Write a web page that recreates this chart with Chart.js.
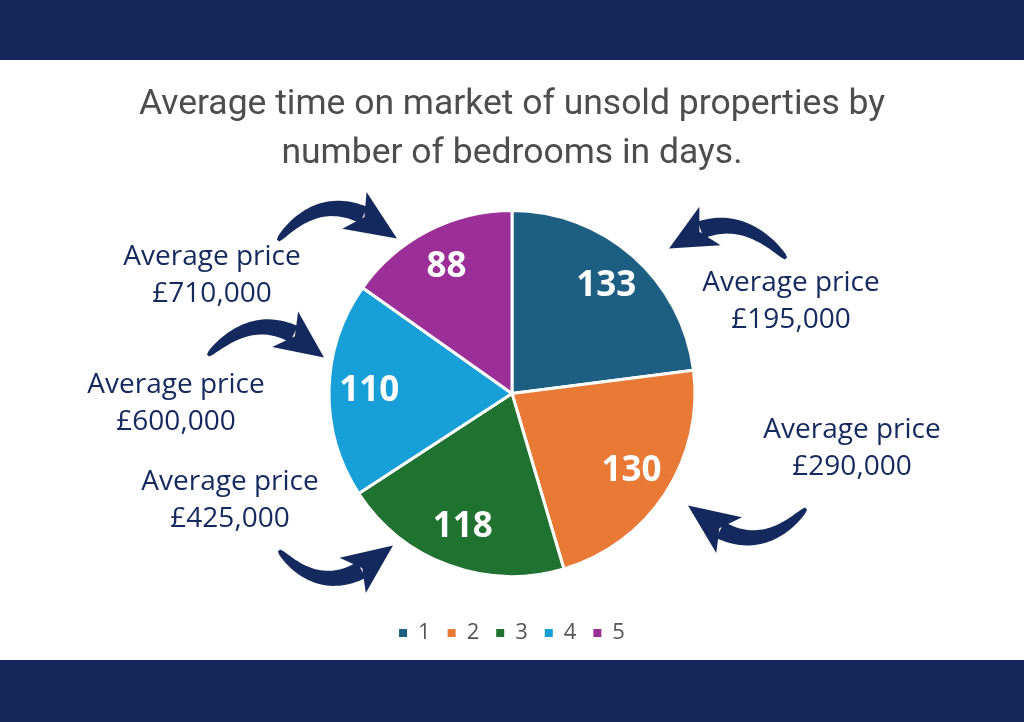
<!DOCTYPE html>
<html>
<head>
<meta charset="utf-8">
<script src="https://cdn.jsdelivr.net/npm/chart.js@4/dist/chart.umd.min.js"></script>
<style>
  html, body { margin: 0; padding: 0; background: #fff; }
  .band { background: #14265a; width: 1024px; }
  #top { height: 60px; }
  #bottom { height: 62px; }
  #wrap { width: 1024px; height: 600px; position: relative; background: #fff; }
</style>
</head>
<body>
<div class="band" id="top"></div>
<div id="wrap"><canvas id="pieChart"></canvas></div>
<div class="band" id="bottom"></div>
<script>
const bedrooms = ['1', '2', '3', '4', '5'];
const daysOnMarket = [133, 130, 118, 110, 88];
const avgPrices = ['£195,000', '£290,000', '£425,000', '£600,000', '£710,000'];
const titleLines = ['Average time on market of unsold properties by', 'number of bedrooms in days.'];

const sliceColours = ['#1d5e83', '#e97a36', '#1f7230', '#179fd7', '#9c2e97'];
const navy = '#14295e';

// callout placement, offsets from pie centre: text centre, arrow tail / control / tip
const callouts = [
  { text: [279, -92], tail: [274, -135], ctrl: [219, -195], tip: [157, -145] },
  { text: [340, 55], tail: [294, 115], ctrl: [239, 175], tip: [176, 112] },
  { text: [-282, 107], tail: [-233, 157], ctrl: [-181, 215], tip: [-119, 152] },
  { text: [-336, 10], tail: [-304, -38], ctrl: [-246, -96], tip: [-188, -36] },
  { text: [-300, -118], tail: [-234, -153], ctrl: [-181, -216], tip: [-115, -155] }
];

function drawArrow(ctx, p0, c, p1) {
  const pt = t => ({
    x: (1 - t) * (1 - t) * p0.x + 2 * (1 - t) * t * c.x + t * t * p1.x,
    y: (1 - t) * (1 - t) * p0.y + 2 * (1 - t) * t * c.y + t * t * p1.y
  });
  const tan = t => ({
    x: 2 * (1 - t) * (c.x - p0.x) + 2 * t * (p1.x - c.x),
    y: 2 * (1 - t) * (c.y - p0.y) + 2 * t * (p1.y - c.y)
  });
  const tEnd = 0.74;
  const left = [], right = [];
  for (let k = 0; k <= 30; k++) {
    const t = tEnd * k / 30;
    const p = pt(t), d = tan(t);
    const len = Math.hypot(d.x, d.y);
    const nx = -d.y / len, ny = d.x / len;
    const w = 1.5 + 7.5 * Math.sqrt(t / tEnd);
    left.push([p.x + nx * w, p.y + ny * w]);
    right.push([p.x - nx * w, p.y - ny * w]);
  }
  ctx.beginPath();
  ctx.moveTo(left[0][0], left[0][1]);
  left.forEach(q => ctx.lineTo(q[0], q[1]));
  right.reverse().forEach(q => ctx.lineTo(q[0], q[1]));
  ctx.closePath();
  ctx.fill();

  // head
  const b = pt(tEnd - 0.04);
  let ux = p1.x - b.x, uy = p1.y - b.y;
  const ul = Math.hypot(ux, uy);
  ux /= ul; uy /= ul;
  const nx = -uy, ny = ux;
  const hw = 22;
  ctx.beginPath();
  ctx.moveTo(p1.x, p1.y);
  ctx.lineTo(b.x + nx * hw - ux * 5, b.y + ny * hw - uy * 5);
  ctx.lineTo(b.x + ux * 7, b.y + uy * 7);
  ctx.lineTo(b.x - nx * hw - ux * 5, b.y - ny * hw - uy * 5);
  ctx.closePath();
  ctx.fill();
}

const decorations = {
  id: 'decorations',
  afterDatasetsDraw(chart) {
    const ctx = chart.ctx;
    const meta = chart.getDatasetMeta(0);
    const arcs = meta.data;
    if (!arcs.length) return;
    const cx = arcs[0].x, cy = arcs[0].y;
    ctx.save();
    // values inside slices
    ctx.fillStyle = '#ffffff';
    ctx.font = 'bold 35px "Open Sans"';
    ctx.textAlign = 'center';
    ctx.textBaseline = 'middle';
    arcs.forEach((arc, i) => {
      const mid = (arc.startAngle + arc.endAngle) / 2;
      const r = arc.outerRadius * 0.78;
      ctx.fillText(String(daysOnMarket[i]), cx + Math.cos(mid) * r, cy + Math.sin(mid) * r);
    });
    // price callouts
    ctx.fillStyle = navy;
    ctx.font = '28px "Open Sans"';
    callouts.forEach((c, i) => {
      const tx = cx + c.text[0], ty = cy + c.text[1];
      ctx.fillText('Average price', tx, ty - 18);
      ctx.fillText(avgPrices[i], tx, ty + 19);
      drawArrow(ctx,
        { x: cx + c.tail[0], y: cy + c.tail[1] },
        { x: cx + c.ctrl[0], y: cy + c.ctrl[1] },
        { x: cx + c.tip[0], y: cy + c.tip[1] });
    });
    ctx.restore();
  }
};

new Chart(document.getElementById('pieChart'), {
  type: 'pie',
  data: {
    labels: bedrooms,
    datasets: [{
      data: daysOnMarket,
      backgroundColor: sliceColours,
      borderColor: '#ffffff',
      borderWidth: 3,
      hoverOffset: 0,
      radius: 183
    }]
  },
  options: {
    responsive: true,
    maintainAspectRatio: false,
    animation: false,
    layout: { padding: { top: 0, bottom: 6 } },
    plugins: {
      title: {
        display: true,
        text: titleLines,
        color: '#4d4d4d',
        font: { family: 'Roboto, sans-serif', size: 35.5, weight: 'normal', lineHeight: 1.38 },
        padding: { top: 21, bottom: 3 }
      },
      legend: {
        position: 'bottom',
        labels: {
          boxWidth: 8,
          boxHeight: 8,
          padding: 17,
          color: '#555555',
          font: { family: '"Open Sans"', size: 22 },
          generateLabels(chart) {
            const items = Chart.overrides.pie.plugins.legend.labels.generateLabels(chart);
            items.forEach(it => { it.lineWidth = 0; it.strokeStyle = it.fillStyle; });
            return items;
          }
        }
      },
      tooltip: { enabled: false }
    }
  },
  plugins: [decorations]
});
</script>
</body>
</html>
